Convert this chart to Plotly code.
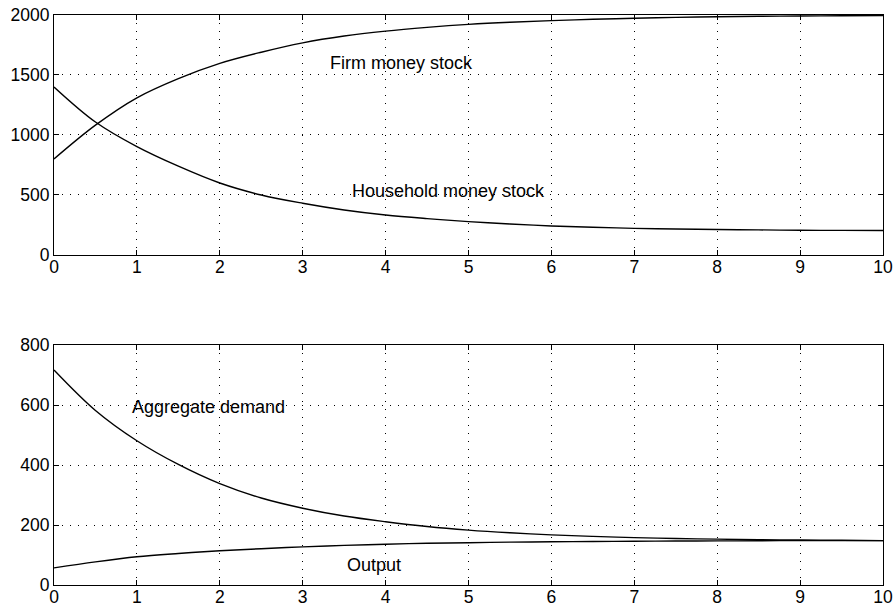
import plotly.graph_objects as go
from plotly.subplots import make_subplots

# time axis (read positions)
t = [0, 0.5, 1, 1.5, 2, 2.5, 3, 3.5, 4, 4.5, 5, 5.5, 6, 6.5, 7, 7.5, 8, 8.5, 9, 9.5, 10]

# top panel
firm_money = [800, 1082, 1310, 1470, 1597, 1690, 1768, 1825, 1866, 1897, 1922, 1940,
              1953, 1964, 1973, 1980, 1985, 1989, 1992, 1994, 1996]
household_money = [1400, 1108, 903, 740, 600, 500, 431, 375, 333, 303, 278, 258,
                   242, 231, 222, 216, 212, 209, 206, 205, 204]

# bottom panel
aggregate_demand = [717, 582, 481, 402, 338, 290, 256, 230, 211, 195, 183, 174,
                    167, 162, 158, 155, 153, 151, 150, 149, 148]
output = [57, 77, 94, 105, 114, 121, 127, 132, 136, 139, 141, 143,
          144, 145, 146, 146.5, 147, 147.5, 148, 148, 148]

x_ticks = list(range(0, 11))
top_yticks = [0, 500, 1000, 1500, 2000]
bot_yticks = [0, 200, 400, 600, 800]

FONT = "Liberation Sans, Arial, sans-serif"

fig = make_subplots(rows=2, cols=1, vertical_spacing=0.158)

line = dict(color="black", width=1.4, shape="spline", smoothing=1.0)
fig.add_trace(go.Scatter(x=t, y=firm_money, mode="lines", line=line, name="Firm money stock"), row=1, col=1)
fig.add_trace(go.Scatter(x=t, y=household_money, mode="lines", line=line, name="Household money stock"), row=1, col=1)
fig.add_trace(go.Scatter(x=t, y=aggregate_demand, mode="lines", line=line, name="Aggregate demand"), row=2, col=1)
fig.add_trace(go.Scatter(x=t, y=output, mode="lines", line=line, name="Output"), row=2, col=1)

axis_common = dict(
    showline=True, linecolor="black", linewidth=1, mirror="ticks",
    ticks="inside", ticklen=5, tickcolor="black", tickwidth=1,
    showgrid=True, gridcolor="black", gridwidth=1, griddash="1px,7px",
    zeroline=False, automargin=False, ticklabeloverflow="allow",
    tickfont=dict(family=FONT, size=17.5, color="black"),
)

for r in (1, 2):
    fig.update_xaxes(range=[0, 10], tickvals=x_ticks, ticklabelstandoff=-4,
                     **axis_common, row=r, col=1)
fig.update_yaxes(range=[0, 2000], tickvals=top_yticks, **axis_common, row=1, col=1)
fig.update_yaxes(range=[0, 800], tickvals=bot_yticks, **axis_common, row=2, col=1)

ann_font = dict(family=FONT, size=18, color="black")
fig.add_annotation(x=3.30, y=1600, xref="x", yref="y", text="Firm money stock",
                   showarrow=False, xanchor="left", yanchor="middle", font=ann_font)
fig.add_annotation(x=3.57, y=533, xref="x", yref="y", text="Household money stock",
                   showarrow=False, xanchor="left", yanchor="middle", font=ann_font)
fig.add_annotation(x=0.92, y=592, xref="x2", yref="y2", text="Aggregate demand",
                   showarrow=False, xanchor="left", yanchor="middle", font=ann_font)
fig.add_annotation(x=3.51, y=67, xref="x2", yref="y2", text="Output",
                   showarrow=False, xanchor="left", yanchor="middle", font=ann_font)

fig.update_layout(
    width=896, height=606,
    margin=dict(l=54, r=13, t=15, b=21),
    paper_bgcolor="white", plot_bgcolor="white",
    showlegend=False,
    font=dict(family=FONT, color="black"),
)

fig.write_html("out.html", config={"displayModeBar": False},
               post_script="document.body.style.margin='0';")
